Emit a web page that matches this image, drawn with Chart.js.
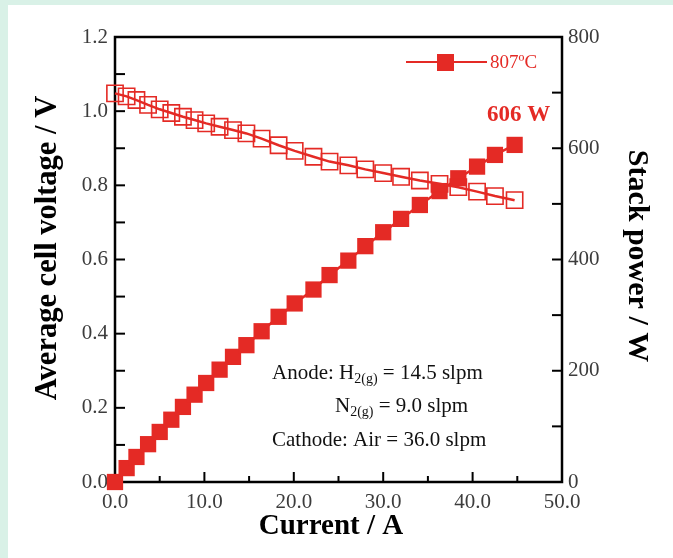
<!DOCTYPE html>
<html lang="en">
<head>
<meta charset="UTF-8">
<title>Stack performance at 807ºC</title>
<script src="https://cdn.jsdelivr.net/npm/chart.js@4.4.1/dist/chart.umd.min.js"></script>
<style>
  html, body { margin: 0; padding: 0; background: #d9f1e7; }
  #frame { position: absolute; left: 8px; top: 5px; width: 665px; height: 553px; background: #fff; }
</style>
</head>
<body>
<div id="frame"><canvas id="chart" width="665" height="553"></canvas></div>
<script>
// Stack current (A) for every operating point
const current = [0, 1.3, 2.4, 3.7, 5.0, 6.3, 7.6, 8.9, 10.2, 11.7, 13.2, 14.7, 16.4, 18.3, 20.1,
  22.2, 24.0, 26.1, 28.0, 30.0, 32.0, 34.1, 36.3, 38.4, 40.5, 42.5, 44.7];
// Average cell voltage (V)
const cellVoltage = [1.048, 1.040, 1.030, 1.017, 1.005, 0.995, 0.985, 0.976, 0.967, 0.958, 0.949,
  0.940, 0.926, 0.908, 0.893, 0.877, 0.864, 0.854, 0.843, 0.833, 0.823, 0.813, 0.804, 0.795,
  0.783, 0.771, 0.760];
// Stack power (W)
const stackPower = [0, 25, 45, 68, 90, 112, 135, 157, 178, 202, 225, 246, 271, 297, 321, 346,
  372, 398, 424, 449, 473, 498, 523, 546, 567, 588, 606];

const currentTicks = [0, 10, 20, 30, 40, 50];
const voltageTicks = [0, 0.2, 0.4, 0.6, 0.8, 1.0, 1.2];
const powerTicks = [0, 200, 400, 600, 800];

const RED = '#e42a25';
const SERIF = "'Liberation Serif', 'Times New Roman', serif";
const TICK_FONT = { family: SERIF, size: 21 };
const TICK_COLOR = '#3c3c3c';

const toPoints = (ys) => current.map((x, i) => ({ x, y: ys[i] }));
const fixedTicks = (list) => (scale) => { scale.ticks = list.map((v) => ({ value: v })); };
const noGrid = { display: false, drawTicks: false };

// inward major + minor ticks and the frame around the plot
const axisFrame = {
  id: 'axisFrame',
  beforeDatasetsDraw(chart) {
    const { ctx, chartArea: a, scales } = chart;
    ctx.save();
    ctx.strokeStyle = '#000';
    ctx.lineWidth = 2;
    const seg = (x1, y1, x2, y2) => { ctx.beginPath(); ctx.moveTo(x1, y1); ctx.lineTo(x2, y2); ctx.stroke(); };
    const withMinors = (list) => {
      const out = [];
      list.forEach((v, i) => {
        out.push({ v, major: true });
        if (i < list.length - 1) out.push({ v: (v + list[i + 1]) / 2, major: false });
      });
      return out;
    };
    withMinors(currentTicks).forEach((t) => {
      const px = scales.x.getPixelForValue(t.v);
      seg(px, a.bottom, px, a.bottom - (t.major ? 10 : 6));
    });
    withMinors(voltageTicks).forEach((t) => {
      const py = scales.y.getPixelForValue(t.v);
      seg(a.left, py, a.left + 10, py);
    });
    withMinors(powerTicks).forEach((t) => {
      const py = scales.y2.getPixelForValue(t.v);
      seg(a.right, py, a.right - 10, py);
    });
    ctx.lineWidth = 2.5;
    ctx.strokeRect(a.left, a.top, a.right - a.left, a.bottom - a.top);
    ctx.restore();
  }
};

// axis titles, legend, peak power label and gas flow notes
const notes = {
  id: 'notes',
  afterDraw(chart) {
    const { ctx, scales } = chart;
    ctx.save();
    ctx.textBaseline = 'middle';
    ctx.textAlign = 'center';

    // axis titles
    ctx.fillStyle = '#000';
    ctx.font = `bold 29px ${SERIF}`;
    ctx.fillText('Current / A', 323, 522);
    ctx.save();
    ctx.translate(40, 243);
    ctx.rotate(-Math.PI / 2);
    ctx.font = `bold 30.5px ${SERIF}`;
    ctx.fillText('Average cell voltage / V', 0, 0);
    ctx.restore();
    ctx.save();
    ctx.translate(629, 251);
    ctx.rotate(Math.PI / 2);
    ctx.font = `bold 30px ${SERIF}`;
    ctx.fillText('Stack power / W', 0, 0);
    ctx.restore();

    // legend entry for the power series
    ctx.strokeStyle = RED;
    ctx.lineWidth = 2;
    ctx.beginPath(); ctx.moveTo(398, 57); ctx.lineTo(479, 57); ctx.stroke();
    ctx.fillStyle = RED;
    ctx.fillRect(429, 49, 17, 17);
    ctx.font = `19px ${SERIF}`;
    ctx.textAlign = 'left';
    ctx.fillText('807ºC', 482, 58);

    // peak power label above the last point
    const last = current.length - 1;
    const lx = scales.x.getPixelForValue(current[last]);
    const ly = scales.y2.getPixelForValue(stackPower[last]);
    ctx.font = `bold 23px ${SERIF}`;
    ctx.textAlign = 'center';
    ctx.fillText(stackPower[last] + ' W', lx + 4, ly - 30);

    // text runs with subscripts
    ctx.fillStyle = '#111';
    ctx.textAlign = 'left';
    const runs = (x, y, parts) => {
      parts.forEach(([txt, sub]) => {
        ctx.font = sub ? `14px ${SERIF}` : `21px ${SERIF}`;
        ctx.fillText(txt, x, sub ? y + 6 : y);
        x += ctx.measureText(txt).width;
      });
    };
    runs(264, 368, [['Anode: H'], ['2(g)', true], [' = 14.5 slpm']]);
    runs(327, 401, [['N'], ['2(g)', true], [' = 9.0 slpm']]);
    runs(264, 435, [['Cathode: Air = 36.0 slpm']]);
    ctx.restore();
  }
};

new Chart(document.getElementById('chart'), {
  type: 'line',
  data: {
    datasets: [
      {
        label: 'Average cell voltage',
        data: toPoints(cellVoltage),
        yAxisID: 'y',
        borderColor: RED,
        borderWidth: 2.5,
        pointStyle: 'rect',
        pointRadius: 11.5,
        pointBorderWidth: 1.6,
        pointBorderColor: RED,
        pointBackgroundColor: 'rgba(0,0,0,0)',
        clip: false,
        order: 0
      },
      {
        label: '807ºC',
        data: toPoints(stackPower),
        yAxisID: 'y2',
        borderColor: RED,
        borderWidth: 2.5,
        pointStyle: 'rect',
        pointRadius: 11.5,
        pointBorderWidth: 0,
        pointBackgroundColor: RED,
        clip: false,
        order: 1
      }
    ]
  },
  options: {
    responsive: false,
    animation: false,
    devicePixelRatio: 1,
    layout: { padding: { top: 32, left: 0, right: 0, bottom: 0 } },
    plugins: { legend: { display: false }, tooltip: { enabled: false } },
    scales: {
      x: {
        type: 'linear',
        min: 0,
        max: 50,
        afterBuildTicks: fixedTicks(currentTicks),
        afterFit: (s) => { s.height = 76; },
        grid: noGrid,
        border: { display: false },
        ticks: { font: TICK_FONT, color: TICK_COLOR, padding: 8, maxRotation: 0,
          callback: (v) => Number(v).toFixed(1) }
      },
      y: {
        position: 'left',
        min: 0,
        max: 1.2,
        afterBuildTicks: fixedTicks(voltageTicks),
        afterFit: (s) => { s.width = 107; },
        grid: noGrid,
        border: { display: false },
        ticks: { font: TICK_FONT, color: TICK_COLOR, padding: 7,
          callback: (v) => Number(v).toFixed(1) }
      },
      y2: {
        position: 'right',
        min: 0,
        max: 800,
        afterBuildTicks: fixedTicks(powerTicks),
        afterFit: (s) => { s.width = 111; },
        grid: noGrid,
        border: { display: false },
        ticks: { font: TICK_FONT, color: TICK_COLOR, padding: 6 }
      }
    }
  },
  plugins: [axisFrame, notes]
});
</script>
</body>
</html>
